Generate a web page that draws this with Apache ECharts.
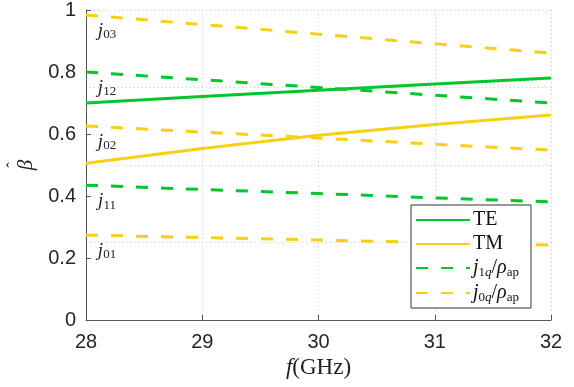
<!DOCTYPE html>
<html>
<head>
<meta charset="utf-8">
<script src="https://cdn.jsdelivr.net/npm/echarts@6/dist/echarts.min.js"></script>
<style>
  html, body { margin: 0; padding: 0; background: #fff; }
  #chart { width: 574px; height: 387px; }
</style>
</head>
<body>
<div id="chart"></div>
<script>
// frequency axis, GHz
var freq = [28, 29, 30, 31, 32];
// normalized propagation constant of the modes
var teValues = [0.700, 0.721, 0.741, 0.761, 0.781];
var tmValues = [0.506, 0.553, 0.596, 0.631, 0.661];
// Bessel-zero reference lines (j_1q / rho_ap)
var j12Values = [0.800, 0.775, 0.750, 0.725, 0.700];
var j11Values = [0.435, 0.421, 0.408, 0.394, 0.381];
// Bessel-zero reference lines (j_0q / rho_ap)
var j03Values = [0.984, 0.953, 0.922, 0.891, 0.861];
var j02Values = [0.626, 0.606, 0.587, 0.567, 0.548];
var j01Values = [0.274, 0.266, 0.258, 0.250, 0.242];
var yTicks = [0, 0.2, 0.4, 0.6, 0.8, 1];

var GREEN = '#00c82a';
var YELLOW = '#f9cf16';
var SERIF = '"Liberation Serif", "DejaVu Serif", serif';
var SANS = '"Liberation Sans", Arial, sans-serif';

function pairs(vals) {
  return freq.map(function (f, i) { return [f, vals[i]]; });
}

var jRich = {
  j: { fontFamily: SERIF, fontStyle: 'italic', fontSize: 19, color: '#222' },
  s: { fontFamily: SERIF, fontSize: 13, color: '#222', padding: [8, 0, 0, 0] }
};

// little j_nq label just under where the reference line starts
function jLabel(vals, sub) {
  return {
    symbol: 'circle',
    symbolSize: 0,
    silent: true,
    data: [{ coord: [freq[0], vals[0]] }],
    label: {
      show: true,
      position: 'inside',
      offset: [21, 16],
      formatter: '{j|j}{s|' + sub + '}',
      rich: jRich
    }
  };
}

function lineSeries(name, vals, color, dashed, sub) {
  var s = {
    name: name,
    type: 'line',
    data: pairs(vals),
    symbol: 'none',
    smooth: false,
    silent: true,
    lineStyle: { color: color, width: 3, type: dashed ? [12, 13] : 'solid' },
    itemStyle: { color: color }
  };
  if (sub) s.markPoint = jLabel(vals, sub);
  return s;
}

var chart = echarts.init(document.getElementById('chart'));

var legendRich = {
  r: { fontFamily: SERIF, fontSize: 20, color: '#111' },
  i: { fontFamily: SERIF, fontStyle: 'italic', fontSize: 20, color: '#111' },
  s: { fontFamily: SERIF, fontSize: 13, color: '#111', padding: [9, 0, 0, 0] },
  si: { fontFamily: SERIF, fontStyle: 'italic', fontSize: 13, color: '#111', padding: [9, 0, 0, 0] }
};

var option = {
  animation: false,
  backgroundColor: '#fff',
  grid: { left: 86, right: 23, top: 10, bottom: 67, outerBoundsMode: 'none' },
  xAxis: {
    type: 'value',
    min: 28,
    max: 32,
    interval: 1,
    name: '{i|f}{r|(GHz)}',
    nameLocation: 'middle',
    nameGap: 36,
    nameTextStyle: {
      rich: {
        i: { fontFamily: SERIF, fontStyle: 'italic', fontSize: 23, color: '#222' },
        r: { fontFamily: SERIF, fontSize: 23, color: '#222' }
      }
    },
    axisLine: { lineStyle: { color: '#555', width: 1 } },
    axisTick: { inside: true, length: 5, lineStyle: { color: '#555' } },
    axisLabel: { fontFamily: SANS, fontSize: 20, color: '#262626', margin: 12 },
    splitLine: { show: true, lineStyle: { color: '#c8c8c8', type: [1, 3], width: 1 } }
  },
  yAxis: [{
    type: 'value',
    min: 0,
    max: 1,
    interval: 0.2,
    // hat on its own line: after the 90° turn it sits beside the beta, as in the source
    name: '{h|ˆ}\n{b|β}',
    nameLocation: 'middle',
    nameGap: 48,
    nameRotate: 90,
    nameTextStyle: {
      align: 'center',
      rich: {
        h: { fontFamily: SERIF, fontSize: 16, lineHeight: 7, color: '#222', align: 'center' },
        b: { fontFamily: SERIF, fontStyle: 'italic', fontSize: 21, lineHeight: 20, color: '#222', align: 'center' }
      }
    },
    axisLine: { show: true, lineStyle: { color: '#555', width: 1 } },
    axisTick: { show: true, inside: true, length: 5, lineStyle: { color: '#555' } },
    axisLabel: {
      fontFamily: SANS, fontSize: 20, color: '#262626', margin: 10,
      formatter: function (v) {
        var t = yTicks.filter(function (k) { return Math.abs(k - v) < 1e-6; });
        return t.length ? String(t[0]) : '';
      }
    },
    splitLine: { show: false }
  }, {
    // only carries the dotted 0.25 grid
    type: 'value',
    position: 'left',
    min: 0,
    max: 1,
    interval: 0.25,
    axisLine: { show: false },
    axisTick: { show: false },
    axisLabel: { show: false },
    splitLine: { show: true, lineStyle: { color: '#c8c8c8', type: [1, 3], width: 1 } }
  }],
  legend: {
    orient: 'vertical',
    left: 411,
    top: 205,
    padding: [5, 12, 4, 4],
    itemGap: 4,
    itemWidth: 54,
    itemHeight: 20,
    backgroundColor: '#fff',
    borderColor: '#333',
    borderWidth: 1,
    borderRadius: 0,
    itemStyle: { opacity: 0 },
    textStyle: { rich: legendRich, padding: [0, 0, 0, -2] },
    data: ['TE', 'TM', 'j1q', 'j0q'],
    formatter: function (name) {
      if (name === 'TE') return '{r|TE}';
      if (name === 'TM') return '{r|TM}';
      if (name === 'j1q') return '{i|j}{s|1}{si|q}{r|/}{i|ρ}{s|ap}';
      return '{i|j}{s|0}{si|q}{r|/}{i|ρ}{s|ap}';
    }
  },
  series: [
    lineSeries('TE', teValues, GREEN, false),
    lineSeries('TM', tmValues, YELLOW, false),
    lineSeries('j1q', j12Values, GREEN, true, '12'),
    lineSeries('j0q', j03Values, YELLOW, true, '03'),
    lineSeries('j0q', j02Values, YELLOW, true, '02'),
    lineSeries('j1q', j11Values, GREEN, true, '11'),
    lineSeries('j0q', j01Values, YELLOW, true, '01')
  ]
};

chart.setOption(option);
</script>
</body>
</html>
